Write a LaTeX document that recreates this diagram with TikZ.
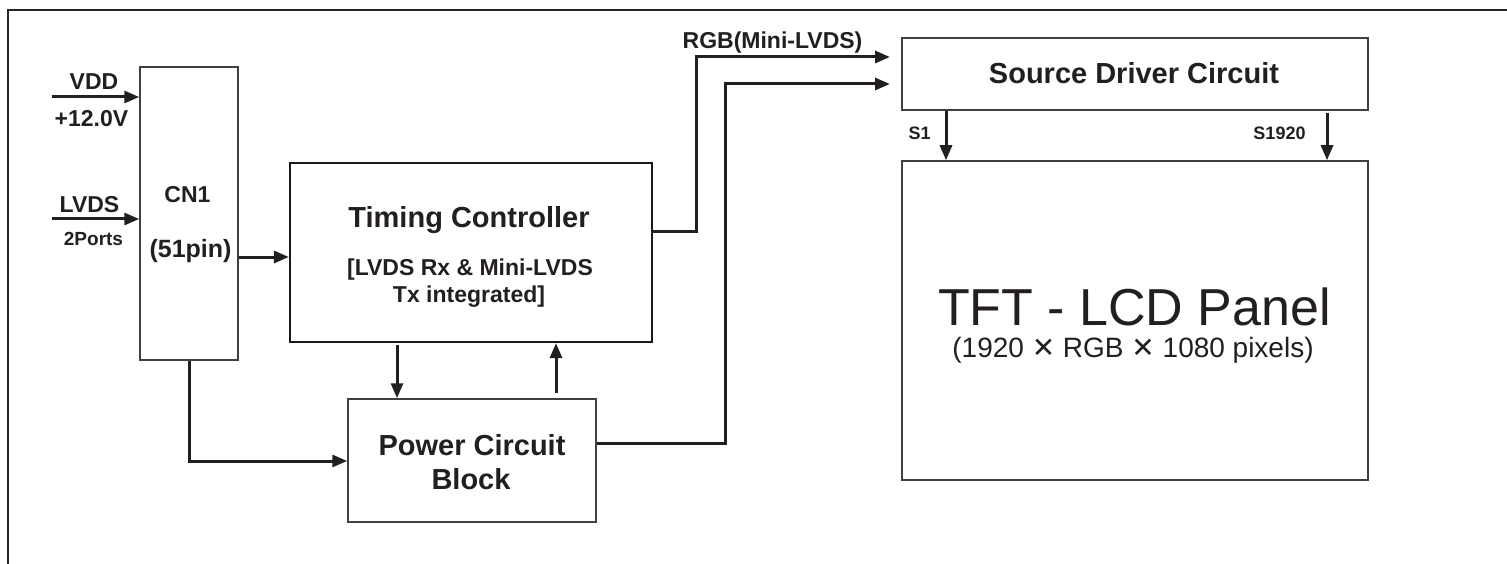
\documentclass[tikz,border=0pt]{standalone}
\usepackage{fontspec}
\setmainfont{Liberation Sans}
\newfontfamily\symfont{DejaVu Sans}
\usetikzlibrary{arrows.meta}
\definecolor{ink}{HTML}{231F20}
\newcommand{\fsz}[1]{\fontsize{#1}{#1}\selectfont}
\tikzset{
  box/.style={draw=black!75, line width=1.5pt, fill=white, inner sep=0pt},
  arr/.style={draw=ink, line width=3pt, -{Triangle[length=15pt,width=12pt]}},
  lbl/.style={text=ink, inner sep=0pt, anchor=base, font=\bfseries},
}
\begin{document}
\begin{tikzpicture}[x=1pt,y=-1pt]
\useasboundingbox (0,0) rectangle (1507,564);
% frame
\draw[draw=black!85, line width=2.2pt] (8,564) -- (8,10) -- (1507,10);
% boxes
\node[box, minimum width=98pt, minimum height=293pt] (cn1) at (189,213.5) {};
\node[box, draw=black!90, line width=2.2pt, minimum width=362pt, minimum height=179pt] (tc) at (471,252.5) {};
\node[box, minimum width=248pt, minimum height=123pt] (pw) at (472,460.5) {};
\node[box, minimum width=466pt, minimum height=72pt] (sd) at (1135,74) {};
\node[box, minimum width=466pt, minimum height=319pt] (tft) at (1135,320.5) {};
% texts
\node[lbl, font=\bfseries\fsz{23}] (tvdd) at (94,90) {VDD};
\node[lbl, font=\bfseries\fsz{23}] (tv12) at (91.5,127) {+12.0V};
\node[lbl, font=\bfseries\fsz{23}] (tlvds) at (89.5,212) {LVDS};
\node[lbl, font=\bfseries\fsz{19}] (tports) at (93.5,245) {2Ports};
\node[lbl, font=\bfseries\fsz{23}] (tcn1) at (187.5,203) {CN1};
\node[lbl, font=\bfseries\fsz{25}] (tpin) at (190.5,258) {(51pin)};
\node[lbl, font=\bfseries\fsz{29}] (ttc) at (469,228) {Timing Controller};
\node[lbl, font=\bfseries\fsz{23}] (ttc2) at (470,275) {[LVDS Rx \& Mini-LVDS};
\node[lbl, font=\bfseries\fsz{23}] (ttc3) at (469,302) {Tx integrated]};
\node[lbl, font=\bfseries\fsz{29}] (tpw) at (472,455) {Power Circuit};
\node[lbl, font=\bfseries\fsz{29}] (tpw2) at (471,489) {Block};
\node[lbl, font=\bfseries\fsz{29}] (tsd) at (1134,84) {Source Driver Circuit};
\node[lbl, font=\bfseries\fsz{23}] (trgb) at (772.5,49) {RGB(Mini-LVDS)};
\node[lbl, font=\bfseries\fsz{18}] (ts1) at (919.5,140) {S1};
\node[lbl, font=\bfseries\fsz{18}] (ts1920) at (1279.5,140) {S1920};
\node[lbl, font=\fsz{52}] (ttft) at (1134.5,325) {TFT - LCD Panel};
\node[lbl, font=\fsz{28}] (ttft2) at (1133,357) {(1920 {\symfont\bfseries ✕} RGB {\symfont\bfseries ✕} 1080 pixels)};
% connectors
\coordinate (vddin) at (52,97);
\coordinate (lvdsin) at (52,219);
\draw[arr] (vddin) -- (vddin -| cn1.west);
\draw[arr] (lvdsin) -- (lvdsin -| cn1.west);
\coordinate (c1) at (238,257);
\draw[arr] (c1 -| cn1.east) -- (c1 -| tc.west);
\coordinate (c2) at (189,461);
\draw[arr] (cn1.south) |- (c2 -| pw.west);
\coordinate (a1) at (397,345);
\draw[arr] (a1) -- (a1 |- pw.north);
\coordinate (a2) at (556,393);
\draw[arr] (a2) -- (a2 |- tc.south);
\coordinate (r0) at (652,232);
\coordinate (r1) at (696,57);
\coordinate (rend) at (890,57);
\draw[arr] (r0 -| tc.east) -| (r1) -- (rend);
\coordinate (p0) at (596,443);
\coordinate (p1) at (725,84);
\coordinate (pend) at (890,84);
\draw[arr] (p0 -| pw.east) -| (p1) -- (pend);
\coordinate (s1) at (946,110);
\draw[arr] (s1 |- sd.south) -- (s1 |- tft.north);
\coordinate (s2) at (1327,113);
\draw[arr] (s2) -- (s2 |- tft.north);
\end{tikzpicture}
\end{document}
